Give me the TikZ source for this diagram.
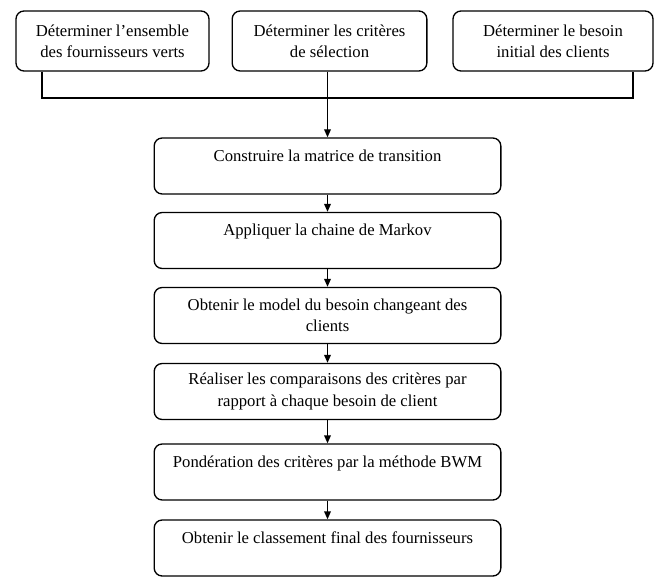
\documentclass[tikz,border=0pt]{standalone}
\usepackage{fontspec}
\setmainfont{Liberation Serif}
\usetikzlibrary{arrows.meta}

\tikzset{every picture/.style={line width=1pt}}
\tikzset{
	stepbox/.style={draw, rounded corners=6pt, align=center, inner sep=2pt,
		font=\fontsize{12.5}{16}\selectfont},
	topbox/.style={stepbox, minimum height=45pt},
	mainbox/.style={stepbox, minimum width=260pt, minimum height=42pt},
	flow/.style={-{Triangle[length=6pt,width=5pt]}}}

\begin{document}
\begin{tikzpicture}[x=0.75pt,y=0.75pt,yscale=-1,xscale=1]
	\useasboundingbox (0,0) rectangle (656,577);

	%Shape: Rounded Rect [id:top1]
	\node [topbox, minimum width=144.75pt] (det1) at (112.5,41) {Déterminer l’ensemble\\des fournisseurs verts};
	%Shape: Rounded Rect [id:top2]
	\node [topbox, minimum width=146pt] (det2) at (329.5,41) {Déterminer les critères\\de sélection};
	%Shape: Rounded Rect [id:top3]
	\node [topbox, minimum width=150pt] (det3) at (553,41) {Déterminer le besoin\\initial des clients};

	%Shape: Rounded Rect [id:main1]
	\node [mainbox] (matrice) at (327.5,166) {Construire la matrice de transition\\\mbox{}};
	%Shape: Rounded Rect [id:main2]
	\node [mainbox] (markov) at (327.5,240.5) {Appliquer la chaine de Markov\\\mbox{}};
	%Shape: Rounded Rect [id:main3]
	\node [mainbox] (model) at (327.5,315.5) {Obtenir le model du besoin changeant des\\clients};
	%Shape: Rounded Rect [id:main4]
	\node [mainbox] (compar) at (327.5,391.5) {Réaliser les comparaisons des critères par\\rapport à chaque besoin de client};
	%Shape: Rounded Rect [id:main5]
	\node [mainbox] (bwm) at (327.5,472) {Pondération des critères par la méthode BWM\\\mbox{}};
	%Shape: Rounded Rect [id:main6]
	\node [mainbox] (classement) at (327.5,548) {Obtenir le classement final des fournisseurs\\\mbox{}};

	%Straight Lines [id:join]
	\coordinate (joinL) at (42,98);
	\coordinate (joinR) at (633,98);
	\draw (det1.south -| joinL) -- (joinL) -- (joinR) -- (det3.south -| joinR);
	%Straight Lines [id:in]
	\draw [flow] (det2.south -| matrice.north) -- (matrice.north);

	%Straight Lines [id:steps]
	\draw [flow] (matrice) -- (markov);
	\draw [flow] (markov) -- (model);
	\draw [flow] (model) -- (compar);
	\draw [flow] (compar) -- (bwm);
	\draw [flow] (bwm) -- (classement);

\end{tikzpicture}
\end{document}
